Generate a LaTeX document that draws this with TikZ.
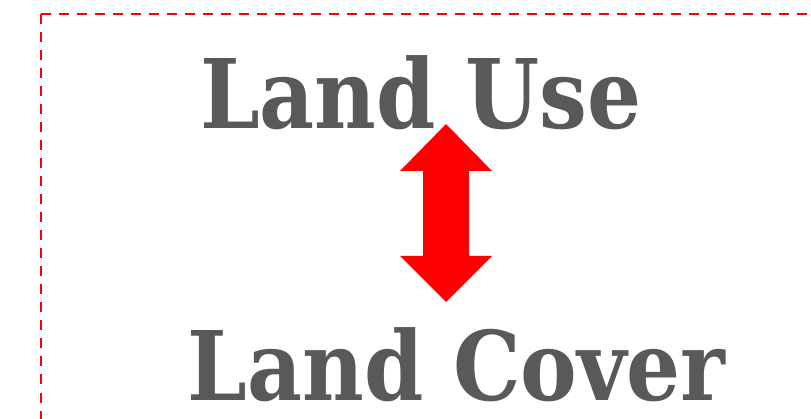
\documentclass[tikz,border=0pt]{standalone}
\usepackage{fontspec}
\setmainfont{DejaVu Serif}
\definecolor{txtgray}{HTML}{595959}
\definecolor{arrred}{HTML}{FF0000}
\newcommand{\narrow}[1]{\scalebox{0.885}[1]{#1}}
\tikzset{
  bigtext/.style={text=txtgray, font=\fontsize{96}{100}\selectfont\bfseries, inner sep=0pt, anchor=base west},
  frame/.style={draw=arrred, line width=2pt, dash pattern=on 10pt off 8pt},
}
\begin{document}
\begin{tikzpicture}[x=1pt,y=-1pt]
\useasboundingbox (0,0) rectangle (811,419);
\clip (0,0) rectangle (811,419);
\fill[white] (0,0) rectangle (811,419);
\draw[frame] (41,14.5) -- (830,14.5);
\draw[frame] (41,14.5) -- (41,440);
\node[bigtext] (use) at (200,128.3) {\narrow{Land Use}};
\node[bigtext] (cover) at (187.5,400) {\narrow{Land Cover}};
\fill[arrred] (446,124) -- (492,171) -- (469,171) -- (469,256) -- (492,256) -- (446,302)
  -- (400,256) -- (423,256) -- (423,171) -- (400,171) -- cycle;
\end{tikzpicture}
\end{document}
